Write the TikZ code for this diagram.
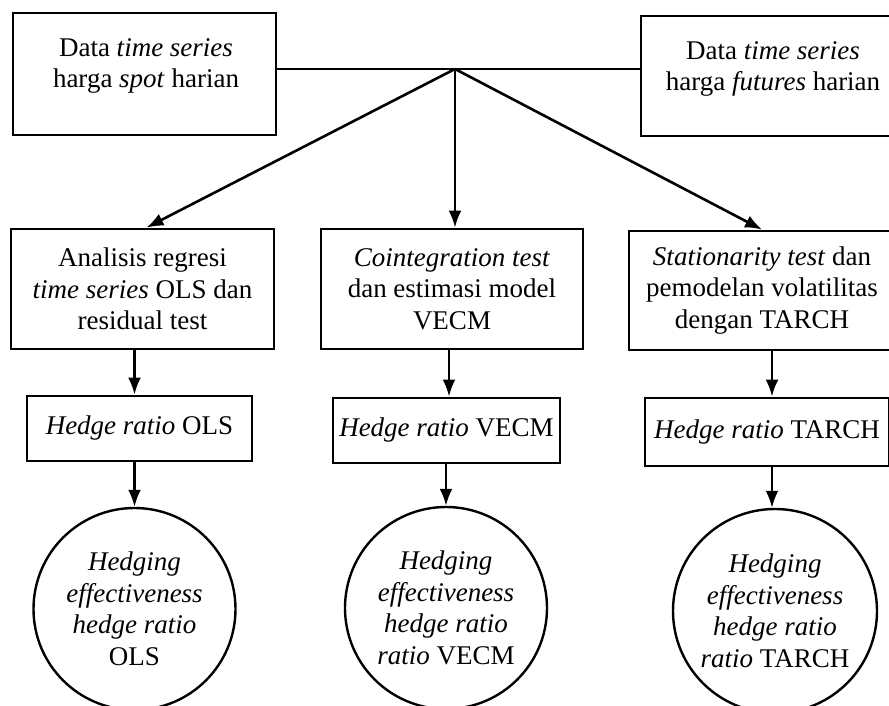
\documentclass[tikz,border=0pt]{standalone}
\usepackage{fontspec}
\setmainfont{Liberation Serif}
\usetikzlibrary{arrows.meta}
\tikzset{
  box/.style={draw, line width=2.8pt, rectangle, inner sep=0pt, align=center},
  txt/.style={align=center, inner sep=0pt},
  oval/.style={draw, line width=2.4pt, circle, inner sep=0pt, minimum size=202pt, align=center},
  arr/.style={line width=2.6pt, -{Latex[length=17pt,width=13pt]}},
  ln/.style={line width=2.6pt}
}
\begin{document}
\begin{tikzpicture}[x=1pt,y=-1pt,font=\fontsize{27}{31.5}\selectfont]
\useasboundingbox (0,0) rectangle (889,706);
\clip (0,0) rectangle (889,706);
% top boxes
\node[box, minimum width=263pt, minimum height=122pt] (spot) at (144.5,74) {};
\node[txt] (spott) at (146,66) {Data \textit{time series}\\harga \textit{spot} harian};
\node[box, minimum width=264pt, minimum height=120pt] (fut) at (773,76) {};
\node[txt] (futt) at (773,69) {Data \textit{time series}\\harga \textit{futures} harian};
\coordinate (j) at (455,69);
% middle boxes
\node[box, minimum width=263pt, minimum height=120pt] (ols) at (142.5,289) {Analisis regresi\\\textit{time series} OLS dan\\residual test};
\node[box, minimum width=262pt, minimum height=120pt] (vecm) at (452,289) {\textit{Cointegration test}\\dan estimasi model\\VECM};
\node[box, minimum width=266pt, minimum height=119pt] (tarch) at (762,290.5) {\textit{Stationarity test} dan\\pemodelan volatilitas\\dengan TARCH};
% hedge ratio boxes
\node[box, minimum width=225pt, minimum height=65pt] (h1) at (139.5,428.5) {\textit{Hedge ratio} OLS};
\node[box, minimum width=227pt, minimum height=65pt] (h2) at (446.5,430.5) {\textit{Hedge ratio} VECM};
\node[box, minimum width=244pt, minimum height=68pt] (h3) at (767,432) {\textit{Hedge ratio} TARCH};
% circles
\node[oval] (c1) at (134.5,609) {\textit{Hedging}\\\textit{effectiveness}\\\textit{hedge ratio}\\OLS};
\node[oval] (c2) at (446,608) {\textit{Hedging}\\\textit{effectiveness}\\\textit{hedge ratio}\\\textit{ratio} VECM};
\node[oval, minimum size=204pt] (c3) at (775,611) {\textit{Hedging}\\\textit{effectiveness}\\\textit{hedge ratio}\\\textit{ratio} TARCH};
% connectors
\draw[ln] (spot.east |- j) -- (j) -- (fut.west |- j);
\draw[arr] (j) -- ([xshift=4pt]ols.north);
\draw[arr] (j) -- (j |- vecm.north);
\draw[arr] (j) -- (tarch.north);
\draw[arr] (c1.north |- ols.south) -- (c1.north |- h1.north);
\draw[arr] (c1.north |- h1.south) -- (c1.north);
\draw[arr] ([xshift=-3pt]vecm.south) -- ([xshift=-3pt]vecm.south |- h2.north);
\draw[arr] (c2.north |- h2.south) -- (c2.north);
\draw[arr] ([xshift=10pt]tarch.south) -- ([xshift=10pt]tarch.south |- h3.north);
\draw[arr] ([xshift=-3pt]c3.north |- h3.south) -- ([xshift=-3pt]c3.north);
\end{tikzpicture}
\end{document}
